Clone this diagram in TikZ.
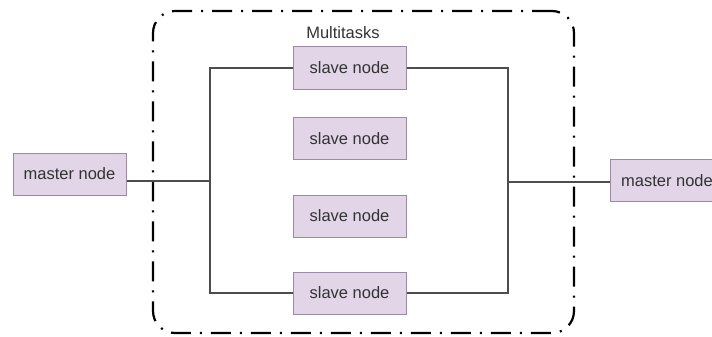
\documentclass[tikz,border=0pt]{standalone}
\usepackage{fontspec}
\setmainfont{Liberation Sans}
\definecolor{boxfill}{HTML}{E1D5E7}
\definecolor{boxline}{HTML}{9A8AA5}
\definecolor{wire}{HTML}{4D4D4D}
\definecolor{label}{HTML}{333333}
\begin{document}
\begin{tikzpicture}[x=1pt,y=-1pt,
  proc/.style={draw=boxline, fill=boxfill, line width=1pt, minimum width=113, minimum height=42,
    inner sep=0pt, text=label, font=\fontsize{16.5}{19}\selectfont},
  wireline/.style={draw=wire, line width=1.2pt},
  groupframe/.style={draw=black, line width=2.2pt, rounded corners=22pt,
    dash pattern=on 20pt off 9pt on 2pt off 9pt, inner sep=0pt}]
  \clip (0,0) rectangle (712,337);
  \useasboundingbox (0,0) rectangle (712,337);

  % dash-dot group frame
  \node[groupframe, minimum width=421, minimum height=322] (grp) at (363.5,172) {};
  \node[text=label, font=\fontsize{16.5}{19}\selectfont] (title) at (343,33) {Multitasks};

  % master nodes
  \node[proc] (mL) at (69.5,174) {master node};
  \node[proc, anchor=west] (mR) at (610,180.5) {master node};

  % slave nodes
  \node[proc] (s1) at (349.5,68) {slave node};
  \node[proc] (s2) at (349.5,138.5) {slave node};
  \node[proc] (s3) at (349.5,216) {slave node};
  \node[proc] (s4) at (349.5,293) {slave node};

  % junction points
  \coordinate (jl) at (210,181);
  \coordinate (jr) at (508,182);

  % fan-out / fan-in wiring
  \draw[wireline] (mL.east |- jl) -- (jl);
  \draw[wireline] (s1.west) -| (jl) |- (s4.west);
  \draw[wireline] (s1.east) -| (jr) |- (s4.east);
  \draw[wireline] (jr) -- (mR.west |- jr);
\end{tikzpicture}
\end{document}
